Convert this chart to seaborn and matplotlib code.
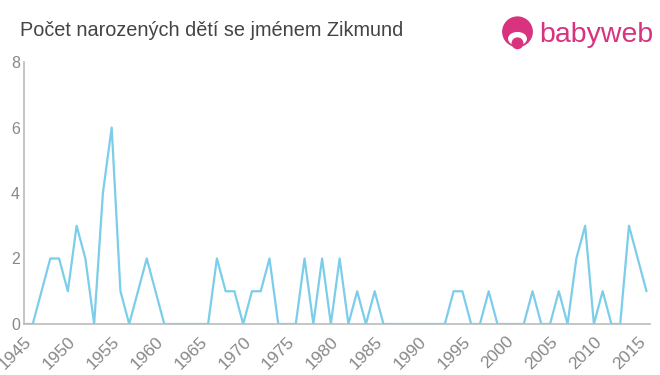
import matplotlib
matplotlib.use("Agg")
import matplotlib.pyplot as plt
import seaborn as sns
import pandas as pd
from matplotlib.patches import Circle, Ellipse

years = list(range(1945, 2017))
counts = [0, 0, 1, 2, 2, 1, 3, 2, 0, 4,
          6, 1, 0, 1, 2, 1, 0, 0, 0, 0,
          0, 0, 2, 1, 1, 0, 1, 1, 2, 0,
          0, 0, 2, 0, 2, 0, 2, 0, 1, 0,
          1, 0, 0, 0, 0, 0, 0, 0, 0, 1,
          1, 0, 0, 1, 0, 0, 0, 0, 1, 0,
          0, 1, 0, 2, 3, 0, 1, 0, 0, 3,
          2, 1]
xticks = list(range(1945, 2016, 5))
yticks = [0, 2, 4, 6, 8]
title = "Počet narozených dětí se jménem Zikmund"

df = pd.DataFrame({"year": years, "count": counts})

sns.set_style("white")
plt.rcParams['font.family'] = ['Liberation Sans', 'DejaVu Sans']

fig = plt.figure(figsize=(6.6, 3.75), dpi=100)
ax = fig.add_axes([24/660, 1-324/375, (650-24)/660, (324-62)/375])
sns.lineplot(data=df, x="year", y="count", ax=ax, color="#7ccdea", linewidth=1.6)

ax.set_xlim(1945, 2016.4)
ax.set_ylim(0, 8)
ax.set_xticks(xticks)
ax.set_xticklabels([str(t) for t in xticks], rotation=45, ha="right", rotation_mode="anchor")
ax.set_yticks(yticks)
ax.set_xlabel("")
ax.set_ylabel("")
for s in ["top", "right"]:
    ax.spines[s].set_visible(False)
for s in ["left", "bottom"]:
    ax.spines[s].set_color("#bbbbbb")
    ax.spines[s].set_linewidth(1.2)
ax.tick_params(axis="x", colors="#bbbbbb", labelcolor="#888888", labelsize=12.5, length=5, width=1, pad=2)
ax.tick_params(axis="y", colors="#bbbbbb", labelcolor="#888888", labelsize=11.5, length=4, width=1, pad=-1)

fig.text(20/660, 1-30/375, title, fontsize=14.3, color="#444444", va="center", ha="left")

# logo
pink = "#d9337f"
fig.text(539/660, 1-35/375, "babyweb", fontsize=20.5, color=pink, va="center", ha="left")
lax = fig.add_axes([500/660, 1-51/375, 35/660, 35/375])
lax.set_xlim(0, 1); lax.set_ylim(0, 1); lax.set_aspect("equal"); lax.axis("off")
lax.add_patch(Circle((0.5, 0.55), 0.42, color=pink))
lax.add_patch(Ellipse((0.5, 0.35), 0.5, 0.35, color="white"))
lax.add_patch(Circle((0.5, 0.22), 0.15, color=pink))

fig.savefig("out.png", dpi=100, facecolor="white")
